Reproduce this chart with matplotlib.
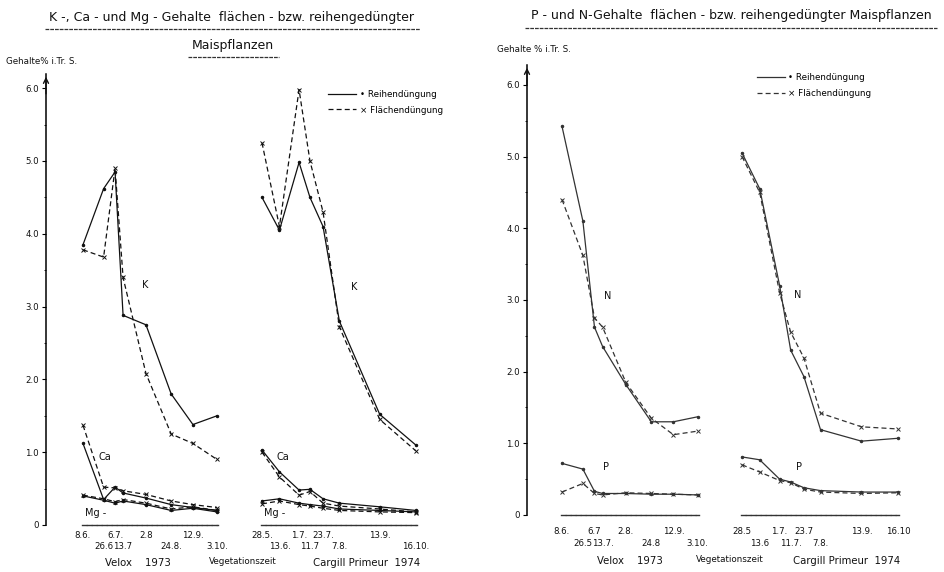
import matplotlib
matplotlib.use('Agg')
import matplotlib.pyplot as plt
from matplotlib.lines import Line2D
import pandas as pd

plt.rcParams['font.family'] = ['DejaVu Sans']

# ---------------- data ----------------
velox_dates = ['1973-06-08', '1973-06-26', '1973-07-06', '1973-07-13',
               '1973-08-02', '1973-08-24', '1973-09-12', '1973-10-03']
cargill_dates = ['1974-05-28', '1974-06-13', '1974-07-01', '1974-07-11',
                 '1974-07-23', '1974-08-07', '1974-09-13', '1974-10-16']

velox_labels_left = ['8.6.', '26.6', '6.7.', '13.7', '2.8', '24.8.', '12.9.', '3.10.']
cargill_labels_left = ['28.5.', '13.6.', '1.7.', '11.7', '23.7.', '7.8.', '13.9.', '16.10.']
velox_labels_right = ['8.6.', '26.5', '6.7', '13.7.', '2.8.', '24.8', '12.9.', '3.10.']
cargill_labels_right = ['28.5', '13.6', '1.7.', '11.7.', '23.7', '7.8.', '13.9.', '16.10']
velox_rows = [0, 1, 0, 1, 0, 1, 0, 1]
cargill_rows_left = [0, 1, 0, 1, 0, 1, 0, 1]
cargill_rows_right = [0, 1, 0, 1, 0, 1, 0, 0]

y_ticks = [0, 1, 2, 3, 4, 5, 6]
y_tick_labels = ['0', '1.0', '2.0', '3.0', '4.0', '5.0', '6.0']

# K, Ca, Mg  (left chart)
K_velox_reihen = [3.85, 4.62, 4.85, 2.88, 2.75, 1.8, 1.38, 1.5]
K_velox_flaechen = [3.78, 3.68, 4.9, 3.4, 2.08, 1.25, 1.12, 0.9]
K_cargill_reihen = [4.5, 4.05, 4.98, 4.5, 4.1, 2.8, 1.52, 1.1]
K_cargill_flaechen = [5.25, 4.1, 5.98, 5.0, 4.3, 2.72, 1.45, 1.02]

Ca_velox_reihen = [1.12, 0.35, 0.52, 0.44, 0.37, 0.28, 0.24, 0.2]
Ca_velox_flaechen = [1.37, 0.52, 0.51, 0.47, 0.42, 0.33, 0.28, 0.24]
Ca_cargill_reihen = [1.03, 0.73, 0.48, 0.49, 0.36, 0.3, 0.25, 0.2]
Ca_cargill_flaechen = [1.0, 0.66, 0.41, 0.46, 0.3, 0.26, 0.22, 0.18]

Mg_velox_reihen = [0.4, 0.34, 0.3, 0.33, 0.28, 0.2, 0.23, 0.18]
Mg_velox_flaechen = [0.41, 0.36, 0.32, 0.35, 0.3, 0.22, 0.25, 0.2]
Mg_cargill_reihen = [0.33, 0.36, 0.3, 0.28, 0.26, 0.22, 0.2, 0.18]
Mg_cargill_flaechen = [0.29, 0.33, 0.28, 0.26, 0.23, 0.2, 0.18, 0.17]

# N, P  (right chart)
N_velox_reihen = [5.42, 4.1, 2.62, 2.35, 1.82, 1.3, 1.3, 1.37]
N_velox_flaechen = [4.4, 3.62, 2.75, 2.62, 1.85, 1.35, 1.12, 1.17]
N_cargill_reihen = [5.05, 4.55, 3.2, 2.3, 1.93, 1.19, 1.03, 1.07]
N_cargill_flaechen = [5.0, 4.5, 3.1, 2.55, 2.19, 1.42, 1.23, 1.2]

P_velox_reihen = [0.72, 0.64, 0.33, 0.3, 0.3, 0.29, 0.29, 0.28]
P_velox_flaechen = [0.32, 0.44, 0.3, 0.28, 0.31, 0.3, 0.29, 0.28]
P_cargill_reihen = [0.81, 0.77, 0.5, 0.46, 0.38, 0.34, 0.32, 0.32]
P_cargill_flaechen = [0.7, 0.6, 0.48, 0.45, 0.36, 0.32, 0.3, 0.31]

# ---------------- layout helpers ----------------
W, H = 945, 572
fig = plt.figure(figsize=(W / 100, H / 100), dpi=100)

vx = list(pd.to_datetime(velox_dates).dayofyear)
cx = list(pd.to_datetime(cargill_dates).dayofyear)

INK = '#111111'
FS_TICK = 6.2
FS_TXT = 7


def add_axes(L, R, bottom, top, day0, p0, k, ymax_units_px):
    ax = fig.add_axes([L / W, 1 - bottom / H, (R - L) / W, (bottom - top) / H])
    ax.set_xlim(day0 - (p0 - L) / k, day0 + (R - p0) / k)
    ax.set_ylim(0, (bottom - top) / ymax_units_px)
    ax.patch.set_alpha(0)
    for s in ['top', 'right']:
        ax.spines[s].set_visible(False)
    return ax


def style_x(ax, days, labels, rows, pad_top, pad_bottom):
    top_days = [d for d, r in zip(days, rows) if r == 0]
    top_labels = [l for l, r in zip(labels, rows) if r == 0]
    bot_days = [d for d, r in zip(days, rows) if r == 1]
    bot_labels = [l for l, r in zip(labels, rows) if r == 1]
    ax.set_xticks(top_days)
    ax.set_xticklabels(top_labels, fontsize=FS_TICK, color=INK)
    ax.set_xticks(bot_days, minor=True)
    ax.set_xticklabels(bot_labels, minor=True, fontsize=FS_TICK, color=INK)
    ax.tick_params(axis='x', which='major', length=0, pad=pad_top)
    ax.tick_params(axis='x', which='minor', length=0, pad=pad_bottom)
    ax.spines['bottom'].set_bounds(min(days) - 1, max(days) + 1)
    ax.spines['bottom'].set_linewidth(1.0)
    ax.spines['bottom'].set_linestyle((0, (3, 0.6)))
    ax.spines['bottom'].set_color('#333333')


def style_y(ax, show):
    if show:
        ax.set_yticks(y_ticks)
        ax.set_yticklabels(y_tick_labels, fontsize=FS_TICK, color=INK)
        ax.set_yticks([0.5, 1.5, 2.5, 3.5, 4.5, 5.5], minor=True)
        ax.tick_params(axis='y', which='major', length=3, width=0.8, pad=2)
        ax.tick_params(axis='y', which='minor', length=1.5, width=0.6)
        ax.spines['left'].set_linewidth(1.1)
        ax.annotate('', xy=(0, 1.0), xytext=(0, 0.95), xycoords='axes fraction',
                    arrowprops=dict(arrowstyle='->', lw=1.0, color=INK,
                                    mutation_scale=9))
    else:
        ax.spines['left'].set_visible(False)
        ax.set_yticks([])


def draw_pair(ax, x, reihen, flaechen, color=INK):
    ax.plot(x, reihen, ls='-', lw=0.9, color=color, marker='.', ms=3)
    ax.plot(x, flaechen, ls=(0, (4, 2.5)), lw=0.9, color=color, marker='x', ms=2.2,
            mew=0.7)


# ---------------- left chart: K, Ca, Mg ----------------
axL1 = add_axes(46, 232, 525, 74, vx[0], 83, 1.145, 72.8)
axL2 = add_axes(238, 440, 525, 74, cx[0], 262, 1.09, 72.8)
style_y(axL1, True)
style_y(axL2, False)
style_x(axL1, vx, velox_labels_left, velox_rows, 4, 12)
style_x(axL2, cx, cargill_labels_left, cargill_rows_left, 4, 12)

draw_pair(axL1, vx, K_velox_reihen, K_velox_flaechen)
draw_pair(axL1, vx, Ca_velox_reihen, Ca_velox_flaechen)
draw_pair(axL1, vx, Mg_velox_reihen, Mg_velox_flaechen)
draw_pair(axL2, cx, K_cargill_reihen, K_cargill_flaechen)
draw_pair(axL2, cx, Ca_cargill_reihen, Ca_cargill_flaechen)
draw_pair(axL2, cx, Mg_cargill_reihen, Mg_cargill_flaechen)

axL1.text(213, 3.3, 'K', fontsize=FS_TXT, color=INK, ha='center', va='center')
axL2.text(233, 3.27, 'K', fontsize=FS_TXT, color=INK, ha='center', va='center')
axL1.text(178, 0.93, 'Ca', fontsize=FS_TXT, color=INK, ha='center', va='center')
axL2.text(167, 0.93, 'Ca', fontsize=FS_TXT, color=INK, ha='center', va='center')
axL1.text(161, 0.16, 'Mg -', fontsize=FS_TXT, color=INK, ha='left', va='center')
axL2.text(150, 0.16, 'Mg -', fontsize=FS_TXT, color=INK, ha='left', va='center')

h1 = Line2D([], [], ls='-', lw=0.9, color=INK)
h2 = Line2D([], [], ls=(0, (4, 2.5)), lw=0.9, color=INK)
axL2.legend([h1, h2], ['• Reihendüngung', '× Flächendüngung'], loc='upper left',
            bbox_to_anchor=(328 / W, 1 - 90 / H), bbox_transform=fig.transFigure,
            frameon=False, fontsize=6.3, handlelength=3.2, handletextpad=0.4,
            labelspacing=0.75, borderpad=0, borderaxespad=0)

# ---------------- right chart: N, P ----------------
INK2 = '#333333'
axR1 = add_axes(527, 712, 515, 65, vx[0], 562, 1.16, 71.7)
axR2 = add_axes(718, 915, 515, 65, cx[0], 742, 1.106, 71.7)
style_y(axR1, True)
style_y(axR2, False)
style_x(axR1, vx, velox_labels_right, velox_rows, 9, 17)
style_x(axR2, cx, cargill_labels_right, cargill_rows_right, 9, 17)

draw_pair(axR1, vx, N_velox_reihen, N_velox_flaechen, INK2)
draw_pair(axR1, vx, P_velox_reihen, P_velox_flaechen, INK2)
draw_pair(axR2, cx, N_cargill_reihen, N_cargill_flaechen, INK2)
draw_pair(axR2, cx, P_cargill_reihen, P_cargill_flaechen, INK2)

axR1.text(198, 3.05, 'N', fontsize=FS_TXT, color=INK, ha='center', va='center')
axR2.text(198, 3.07, 'N', fontsize=FS_TXT, color=INK, ha='center', va='center')
axR1.text(197, 0.67, 'P', fontsize=FS_TXT, color=INK, ha='center', va='center')
axR2.text(199.5, 0.67, 'P', fontsize=FS_TXT, color=INK, ha='center', va='center')

h3 = Line2D([], [], ls='-', lw=0.9, color=INK2)
h4 = Line2D([], [], ls=(0, (4, 2.5)), lw=0.9, color=INK2)
axR2.legend([h3, h4], ['• Reihendüngung', '× Flächendüngung'], loc='upper left',
            bbox_to_anchor=(757 / W, 1 - 73 / H), bbox_transform=fig.transFigure,
            frameon=False, fontsize=6.3, handlelength=3.2, handletextpad=0.4,
            labelspacing=0.75, borderpad=0, borderaxespad=0)

# ---------------- titles and labels ----------------
def underline(x0, x1, y):
    fig.add_artist(Line2D([x0 / W, x1 / W], [1 - y / H, 1 - y / H],
                          transform=fig.transFigure, color='#333333', lw=0.9,
                          ls=(0, (3, 0.8))))

fig.text(232 / W, 1 - 17 / H, 'K -, Ca - und Mg - Gehalte  flächen - bzw. reihengedüngter',
         fontsize=9, ha='center', va='center', color=INK)
underline(45, 420, 29)
fig.text(233 / W, 1 - 46 / H, 'Maispflanzen', fontsize=9, ha='center', va='center',
         color=INK)
underline(188, 279, 57)

fig.text(731 / W, 1 - 16 / H, 'P - und N-Gehalte  flächen - bzw. reihengedüngter Maispflanzen',
         fontsize=9, ha='center', va='center', color=INK)
underline(525, 937, 28)

fig.text(6 / W, 1 - 62 / H, 'Gehalte% i.Tr. S.', fontsize=6.3, ha='left', va='center',
         color=INK)
fig.text(497 / W, 1 - 50 / H, 'Gehalte % i.Tr. S.', fontsize=6.3, ha='left', va='center',
         color=INK)

fig.text(138 / W, 1 - 563 / H, 'Velox    1973', fontsize=7.3, ha='center', va='center',
         color=INK)
fig.text(243 / W, 1 - 561 / H, 'Vegetationszeit', fontsize=6.3, ha='center', va='center',
         color=INK)
fig.text(367 / W, 1 - 563 / H, 'Cargill Primeur  1974', fontsize=7.3, ha='center',
         va='center', color=INK)

fig.text(630 / W, 1 - 561 / H, 'Velox    1973', fontsize=7.3, ha='center', va='center',
         color=INK)
fig.text(730 / W, 1 - 559 / H, 'Vegetationszeit', fontsize=6.3, ha='center', va='center',
         color=INK)
fig.text(847 / W, 1 - 561 / H, 'Cargill Primeur  1974', fontsize=7.3, ha='center',
         va='center', color=INK)

fig.savefig('out.png', dpi=100)
